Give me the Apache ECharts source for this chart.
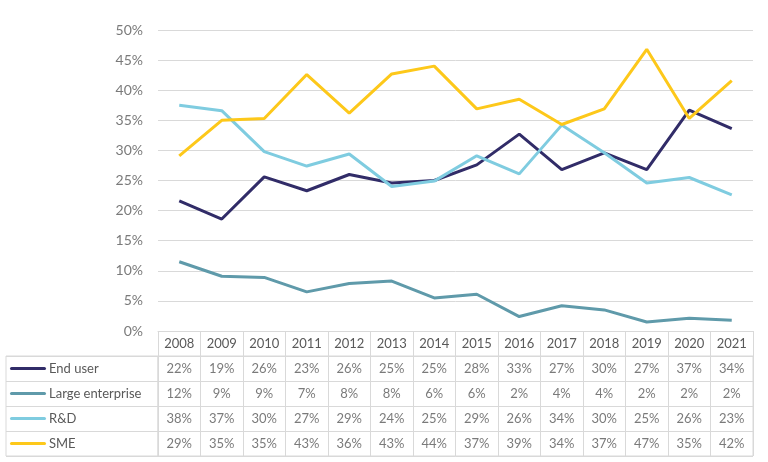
<!DOCTYPE html>
<html><head><meta charset="utf-8">
<script src="https://cdn.jsdelivr.net/npm/echarts@6/dist/echarts.min.js"></script>
<style>html,body{margin:0;padding:0;background:#fff}#c{width:768px;height:462px}</style>
</head><body><div id="c"></div>
<script>
const years = ['2008','2009','2010','2011','2012','2013','2014','2015','2016','2017','2018','2019','2020','2021'];
const seriesNames = ['End user','Large enterprise','R&D','SME'];
const endUser = [21.6, 18.6, 25.6, 23.3, 26.0, 24.6, 25.0, 27.6, 32.7, 26.8, 29.6, 26.8, 36.7, 33.6];
const largeEnterprise = [11.5, 9.1, 8.9, 6.5, 7.9, 8.3, 5.5, 6.1, 2.4, 4.2, 3.5, 1.5, 2.1, 1.8];
const rnd = [37.5, 36.6, 29.8, 27.4, 29.4, 24.0, 24.9, 29.1, 26.1, 34.2, 29.6, 24.6, 25.5, 22.6];
const sme = [29.1, 35.0, 35.3, 42.6, 36.2, 42.7, 44.0, 36.9, 38.5, 34.3, 36.9, 46.8, 35.3, 41.6];
const yTicks = { min: 0, max: 50, interval: 5 };

const allValues = [endUser, largeEnterprise, rnd, sme];
const colors = ['#312c68', '#5f9aaa', '#7fcce0', '#fdc81a'];
const font = 'Lato, "Liberation Sans", sans-serif';
const txt = '#595959';
const border = '#d9d9d9';

const rich = { t: { color: txt, fontSize: 13, fontFamily: font, padding: [0,0,0,3] } };
colors.forEach((c, i) => { rich['k' + i] = { width: 36, height: 3, backgroundColor: c, borderRadius: 2 }; });

const chart = echarts.init(document.getElementById('c'), null, { renderer: 'canvas' });
const series = [];
seriesNames.forEach((n, i) => {
  series.push({
    name: n, type: 'line', xAxisIndex: 0, yAxisIndex: 0,
    data: allValues[i], symbol: 'none', lineStyle: { width: 3, color: colors[i] },
    itemStyle: { color: colors[i] }, z: 3 + i
  });
});
seriesNames.forEach((n, i) => {
  series.push({
    name: n + ' table', type: 'scatter', xAxisIndex: 1, yAxisIndex: 1,
    symbolSize: 1, itemStyle: { color: 'rgba(0,0,0,0)' }, silent: true,
    data: allValues[i].map((v, j) => [j, i, v]),
    label: { show: true, position: 'inside', color: txt, fontSize: 13, fontFamily: font,
      formatter: p => Math.round(p.value[2]) + '%' }
  });
});

chart.setOption({
  animation: false,
  backgroundColor: '#fff',
  grid: [
    { left: 158, right: 15, top: 30, height: 301 },
    { left: 158, right: 15, top: 356, height: 100, show: true, borderColor: border, borderWidth: 1 },
    { left: 6, width: 152, top: 356, height: 100, show: true, borderColor: border, borderWidth: 1 }
  ],
  xAxis: [
    { type: 'category', gridIndex: 0, data: years, boundaryGap: true,
      axisLine: { lineStyle: { color: border, width: 1 } },
      axisTick: { show: true, interval: 0, length: 25, lineStyle: { color: border } },
      axisLabel: { color: txt, fontSize: 13, fontFamily: font, margin: 6, interval: 0 } },
    { type: 'category', gridIndex: 1, data: years, boundaryGap: true,
      axisLine: { show: false }, axisTick: { show: false }, axisLabel: { show: false },
      splitLine: { show: true, interval: 0, lineStyle: { color: border } } },
    { type: 'value', gridIndex: 2, show: false }
  ],
  yAxis: [
    { type: 'value', gridIndex: 0, min: yTicks.min, max: yTicks.max, interval: yTicks.interval,
      axisLine: { show: false }, axisTick: { show: false },
      axisLabel: { color: '#7a7a7a', fontSize: 14, fontFamily: font, margin: 15, formatter: '{value}%' },
      splitLine: { lineStyle: { color: border, width: 1 } } },
    { type: 'category', gridIndex: 1, data: seriesNames, inverse: true, boundaryGap: true,
      axisLine: { show: false }, axisTick: { show: false }, axisLabel: { show: false },
      splitLine: { show: true, interval: 0, lineStyle: { color: border } } },
    { type: 'category', gridIndex: 2, data: seriesNames, inverse: true, boundaryGap: true,
      axisLine: { show: false }, axisTick: { show: false },
      splitLine: { show: true, interval: 0, lineStyle: { color: border } },
      axisLabel: { inside: true, margin: 4, align: 'left', interval: 0, rich: rich,
        formatter: (v, i) => '{k' + seriesNames.indexOf(v) + '|}{t|' + v + '}' } }
  ],
  series: series
});
</script></body></html>
